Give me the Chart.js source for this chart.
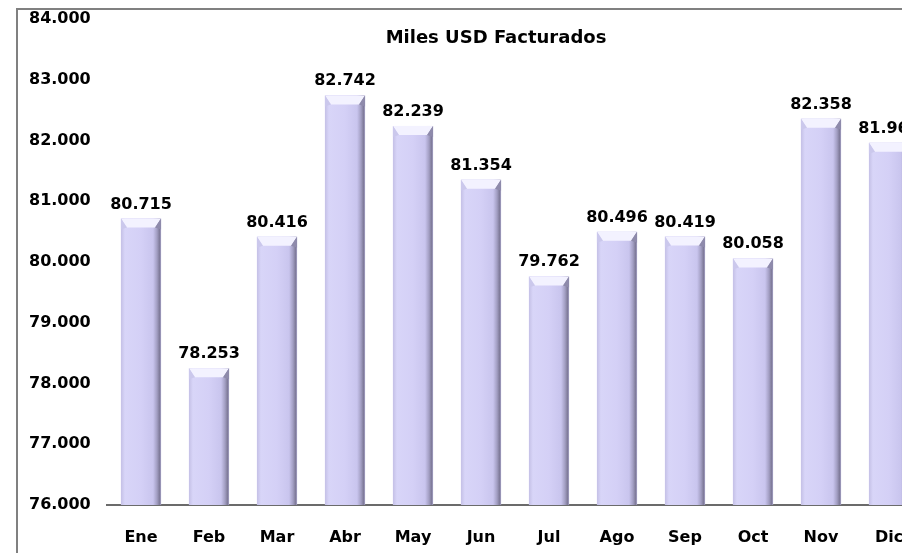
<!DOCTYPE html>
<html>
<head>
<meta charset="utf-8">
<script src="https://cdn.jsdelivr.net/npm/chart.js@4"></script>
<style>
  html, body { margin: 0; padding: 0; background: #fff; overflow: hidden; }
  #wrap { position: relative; width: 902px; height: 553px; overflow: hidden; }
  #revenueChart { position: absolute; left: 0; top: 0; }
  #frame { position: absolute; left: 16px; top: 8px; width: 1000px; height: 700px;
           border-left: 2px solid #808080; border-top: 2px solid #808080; pointer-events: none; }
</style>
</head>
<body>
<div id="wrap">
  <canvas id="revenueChart" width="960" height="553"></canvas>
  <div id="frame"></div>
</div>
<script>
// Datos del grafico
const meses = ['Ene', 'Feb', 'Mar', 'Abr', 'May', 'Jun', 'Jul', 'Ago', 'Sep', 'Oct', 'Nov', 'Dic'];
const facturado = [80715, 78253, 80416, 82742, 82239, 81354, 79762, 80496, 80419, 80058, 82358, 81962];
const ejeMin = 76000;
const ejeMax = 84000;
const ejePaso = 1000;
const titulo = 'Miles USD Facturados';

const fuente = '"DejaVu Sans", Verdana, sans-serif';

// formato con punto de miles
function miles(v) {
    return String(Math.round(v)).replace(/\B(?=(\d{3})+(?!\d))/g, '.');
}

// sombreado tipo cilindro + etiquetas encima de cada barra
const barrasPlugin = {
    id: 'barras',
    afterDatasetsDraw(chart) {
        const c = chart.ctx;
        const area = chart.chartArea;
        const meta = chart.getDatasetMeta(0);
        meta.data.forEach((bar, i) => {
            const l = bar.x - bar.width / 2;
            const r = bar.x + bar.width / 2;
            const t = bar.y;
            const b = Math.min(bar.base, area.bottom);
            const g = c.createLinearGradient(l, 0, r, 0);
            g.addColorStop(0, '#c4c0e6');
            g.addColorStop(0.1, '#d8d5f8');
            g.addColorStop(0.5, '#d4d0f6');
            g.addColorStop(0.8, '#c9c5ee');
            g.addColorStop(0.9, '#a29ec2');
            g.addColorStop(0.96, '#7f7b9a');
            g.addColorStop(1, '#a5a1c4');
            c.save();
            c.fillStyle = g;
            c.fillRect(l, t, r - l, b - t);
            // tapa superior biselada
            const h = 9;
            c.fillStyle = '#f3f2ff';
            c.beginPath();
            c.moveTo(l, t);
            c.lineTo(r, t);
            c.lineTo(r - 6, t + h);
            c.lineTo(l + 6, t + h);
            c.closePath();
            c.fill();
            c.fillStyle = '#cbc8ec';
            c.beginPath();
            c.moveTo(l, t);
            c.lineTo(l + 6, t + h);
            c.lineTo(l, t + h + 2);
            c.closePath();
            c.fill();
            c.fillStyle = '#8e8aab';
            c.beginPath();
            c.moveTo(r, t);
            c.lineTo(r - 6, t + h);
            c.lineTo(r, t + h + 2);
            c.closePath();
            c.fill();
            // etiqueta
            c.fillStyle = '#000';
            c.font = 'bold 16px ' + fuente;
            c.textAlign = 'center';
            c.textBaseline = 'alphabetic';
            c.fillText(miles(facturado[i]), bar.x, t - 10);
            c.restore();
        });
        // titulo
        c.save();
        c.fillStyle = '#000';
        c.font = 'bold 18px ' + fuente;
        c.textAlign = 'center';
        c.textBaseline = 'middle';
        c.fillText(titulo, 496, 38);
        c.restore();
    }
};

const ctx = document.getElementById('revenueChart').getContext('2d');
const chart = new Chart(ctx, {
    type: 'bar',
    data: {
        labels: meses,
        datasets: [{
            data: facturado,
            backgroundColor: '#d4d0f6',
            borderWidth: 0,
            barPercentage: 0.59,
            categoryPercentage: 1
        }]
    },
    options: {
        responsive: false,
        animation: false,
        layout: { padding: { left: 29, right: 37, top: 19, bottom: 0 } },
        plugins: {
            legend: { display: false },
            tooltip: { enabled: false }
        },
        scales: {
            x: {
                grid: { display: false, drawTicks: false },
                border: { display: true, color: '#6b6b6b', width: 2 },
                ticks: {
                    color: '#000',
                    font: { family: fuente, weight: 'bold', size: 16 },
                    padding: 23,
                    maxRotation: 0
                },
                afterFit(s) { s.height = 48; }
            },
            y: {
                min: ejeMin,
                max: ejeMax,
                grid: { display: false, drawTicks: false },
                border: { display: false },
                ticks: {
                    stepSize: ejePaso,
                    color: '#000',
                    crossAlign: 'far',
                    font: { family: fuente, weight: 'bold', size: 16 },
                    callback: v => miles(v)
                },
                afterFit(s) { s.width = 78; }
            }
        }
    },
    plugins: [barrasPlugin]
});
</script>
</body>
</html>
